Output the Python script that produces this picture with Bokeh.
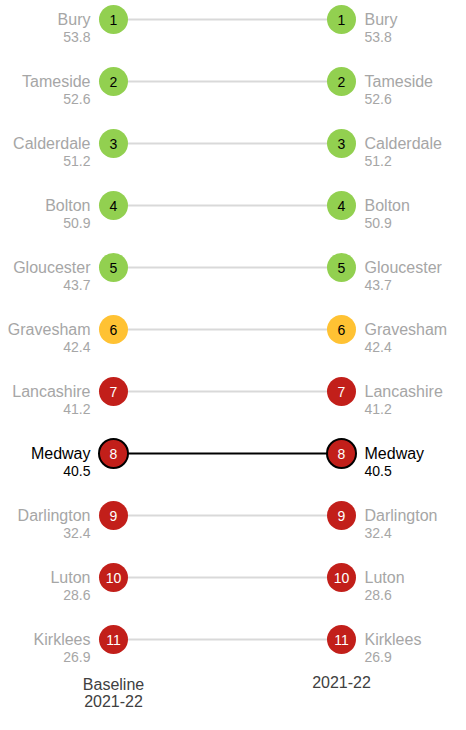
from bokeh.plotting import figure
from bokeh.models import ColumnDataSource, Range1d
from bokeh.core.properties import value
from bokeh.embed import file_html
from bokeh.resources import INLINE

names = ["Bury", "Tameside", "Calderdale", "Bolton", "Gloucester", "Gravesham",
         "Lancashire", "Medway", "Darlington", "Luton", "Kirklees"]
baseline_vals = [53.8, 52.6, 51.2, 50.9, 43.7, 42.4, 41.2, 40.5, 32.4, 28.6, 26.9]
current_vals = [53.8, 52.6, 51.2, 50.9, 43.7, 42.4, 41.2, 40.5, 32.4, 28.6, 26.9]
baseline_rank = [1, 2, 3, 4, 5, 6, 7, 8, 9, 10, 11]
current_rank = [1, 2, 3, 4, 5, 6, 7, 8, 9, 10, 11]
rag = ["green", "green", "green", "green", "green", "amber",
       "red", "red", "red", "red", "red"]
highlight = "Medway"
periods = ["Baseline\n2021-22", "2021-22"]

rag_fill = {"green": "#92d050", "amber": "#ffc233", "red": "#c21f1a"}
rag_text = {"green": "#000000", "amber": "#000000", "red": "#ffffff"}

FONT = "Liberation Sans"
W, H = 450, 714
xl, xr = 113, 341
span = xr - xl
top_px, step = 19, 62

p = figure(width=W, height=H, output_backend="svg", toolbar_location=None,
           x_range=Range1d(-xl / span, (W - xl) / span),
           y_range=Range1d(11 + (H - (top_px + 10 * step)) / step, 1 - top_px / step),
           min_border=0)
p.axis.visible = False
p.grid.visible = False
p.outline_line_color = None
p.background_fill_color = None
p.border_fill_color = "white"

is_hl = [n == highlight for n in names]
lab_col = ["#000000" if h else "#a6a6a6" for h in is_hl]
order = sorted(range(len(names)), key=lambda i: is_hl[i])
seg = ColumnDataSource(dict(
    x0=[0 for i in order], x1=[1 for i in order],
    y0=[baseline_rank[i] for i in order], y1=[current_rank[i] for i in order],
    color=["#000000" if is_hl[i] else "#d9d9d9" for i in order]))
p.segment(x0="x0", y0="y0", x1="x1", y1="y1", line_color="color", line_width=2, source=seg)

for xpos, ranks, vals, side in [(0, baseline_rank, baseline_vals, "left"),
                                (1, current_rank, current_vals, "right")]:
    src = ColumnDataSource(dict(
        x=[xpos] * len(names), y=ranks, name=names,
        val=[f"{v:.1f}" for v in vals], rk=[str(r) for r in ranks],
        fill=[rag_fill[r] for r in rag], tcol=[rag_text[r] for r in rag],
        lcol=["#000000" if h else None for h in is_hl],
        lab=lab_col))
    p.scatter(x="x", y="y", size=29, fill_color="fill", line_color="lcol",
              line_width=2, source=src)
    p.text(x="x", y="y", text="rk", text_color="tcol", text_align="center",
           text_baseline="middle", text_font=value(FONT), text_font_size="14px",
           source=src)
    align = "right" if side == "left" else "left"
    xo = -23 if side == "left" else 23
    p.text(x="x", y="y", text="name", text_color="lab", text_align=align,
           text_baseline="middle", x_offset=xo, y_offset=0,
           text_font=value(FONT), text_font_size="16px", source=src)
    p.text(x="x", y="y", text="val", text_color="lab", text_align=align,
           text_baseline="middle", x_offset=xo, y_offset=17,
           text_font=value(FONT), text_font_size="14px", source=src)

psrc = ColumnDataSource(dict(x=[0, 1], y=[max(baseline_rank)] * 2, t=periods))
p.text(x="x", y="y", text="t", text_color="#404040", text_align="center",
       text_baseline="top", y_offset=36, text_font=value(FONT),
       text_font_size="16px", text_line_height=1.05, source=psrc)

open("out.html", "w").write(file_html(p, INLINE))
